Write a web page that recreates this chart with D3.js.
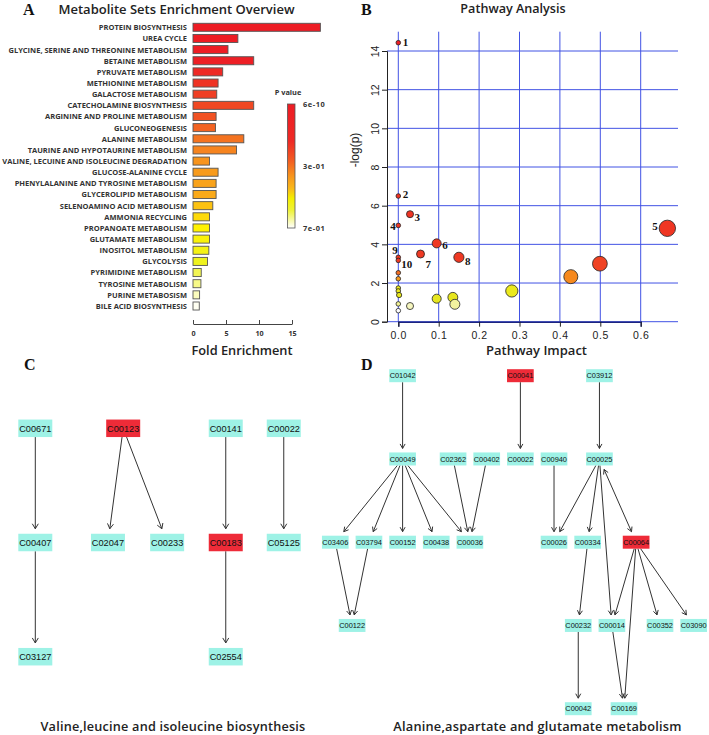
<!DOCTYPE html>
<html><head><meta charset="utf-8">
<script src="https://d3js.org/d3.v7.min.js"></script>
<style>body{margin:0;background:#fff;} svg{display:block;}</style>
</head><body>
<svg id="fig" width="709" height="735"></svg>
<script>
// ---------- Panel A data ----------
const categories = ["PROTEIN BIOSYNTHESIS","UREA CYCLE","GLYCINE, SERINE AND THREONINE METABOLISM","BETAINE METABOLISM","PYRUVATE METABOLISM","METHIONINE METABOLISM","GALACTOSE METABOLISM","CATECHOLAMINE BIOSYNTHESIS","ARGININE AND PROLINE METABOLISM","GLUCONEOGENESIS","ALANINE METABOLISM","TAURINE AND HYPOTAURINE METABOLISM","VALINE, LECUINE AND ISOLEUCINE DEGRADATION","GLUCOSE-ALANINE CYCLE","PHENYLALANINE AND TYROSINE METABOLISM","GLYCEROLIPID METABOLISM","SELENOAMINO ACID METABOLISM","AMMONIA RECYCLING","PROPANOATE METABOLISM","GLUTAMATE METABOLISM","INOSITOL METABOLISM","GLYCOLYSIS","PYRIMIDINE METABOLISM","TYROSINE METABOLISM","PURINE METABOSISM","BILE ACID BIOSYNTHESIS"];
const foldEnrichment = [19.3,6.8,5.3,9.2,4.5,3.8,3.6,9.2,3.5,3.4,7.7,6.6,2.5,3.8,3.5,3.5,3.0,2.5,2.5,2.5,2.4,2.2,1.25,1.2,1.0,0.95];
const pValues = [5.6e-10,1.2e-6,4.0e-5,9.1e-5,2.3e-4,6.0e-4,1.1e-3,2.4e-3,4.9e-3,8.7e-3,1.9e-2,3.3e-2,5.2e-2,7.4e-2,9.5e-2,0.11,0.16,0.21,0.26,0.29,0.33,0.38,0.46,0.52,0.60,0.70];
const foldTicks = [0,5,10,15];
const legendLabels = ["6e-10","3e-01","7e-01"];

// ---------- Panel B data ----------
const pathwayImpact  = [0,0,0.029,0,0.666,0.095,0.055,0.15,0,0,0,0,0,0,0.002,0,0,0.029,0.095,0.135,0.14,0.281,0.427,0.499];
const pathwayNegLogP = [14.43,6.5,5.56,4.98,4.83,4.05,3.5,3.33,3.33,3.17,2.53,2.22,1.74,1.59,1.38,0.92,0.57,0.81,1.19,1.26,0.9,1.59,2.33,3.0];
const pathwayLabels  = ["1","2","3","4","5","6","7","8","9","10","","","","","","","","","","","","","",""];
const impactTicks = [0,0.1,0.2,0.3,0.4,0.5,0.6];
const logPTicks = [0,2,4,6,8,10,12,14];

// ---------- Panel C data ----------
const nodesC = [
  {id:"C00671",col:0,row:0},{id:"C00123",col:1.5,row:0,hit:true},{id:"C00141",col:3.25,row:0},{id:"C00022",col:4.24,row:0},
  {id:"C00407",col:0,row:1},{id:"C02047",col:1.24,row:1},{id:"C00233",col:2.25,row:1},{id:"C00183",col:3.25,row:1,hit:true},{id:"C05125",col:4.24,row:1},
  {id:"C03127",col:0,row:2},{id:"C02554",col:3.25,row:2}
];
const edgesC = [["C00671","C00407"],["C00407","C03127"],["C00123","C02047"],["C00123","C00233"],["C00141","C00183"],["C00183","C02554"],["C00022","C05125"]];

// ---------- Panel D data ----------
const nodesD = [
  {id:"C01042",col:2,row:0},{id:"C00041",col:5.5,row:0,hit:true},{id:"C03912",col:7.85,row:0},
  {id:"C00049",col:2,row:1},{id:"C02362",col:3.5,row:1},{id:"C00402",col:4.5,row:1},{id:"C00022",col:5.5,row:1},{id:"C00940",col:6.5,row:1},{id:"C00025",col:7.85,row:1},
  {id:"C03406",col:0,row:2},{id:"C03794",col:1,row:2},{id:"C00152",col:2,row:2},{id:"C00438",col:3,row:2},{id:"C00036",col:4,row:2},{id:"C00026",col:6.5,row:2},{id:"C00334",col:7.5,row:2},{id:"C00064",col:8.94,row:2,hit:true},
  {id:"C00122",col:0.5,row:3},{id:"C00232",col:7.22,row:3},{id:"C00014",col:8.22,row:3},{id:"C00352",col:9.65,row:3},{id:"C03090",col:10.65,row:3},
  {id:"C00042",col:7.22,row:4},{id:"C00169",col:8.58,row:4}
];
const edgesD = [["C01042","C00049"],["C00041","C00022"],["C03912","C00025"],
  ["C00049","C03406"],["C00049","C03794"],["C00049","C00152"],["C00049","C00438"],["C00049","C00036"],
  ["C02362","C00036"],["C00402","C00036"],["C00940","C00026"],
  ["C00025","C00026"],["C00025","C00334"],["C00025","C00014"],["C00025","C00064","both"],
  ["C03406","C00122"],["C03794","C00122"],["C00334","C00232"],
  ["C00064","C00014"],["C00064","C00169"],["C00064","C00352"],["C00064","C03090"],
  ["C00232","C00042"],["C00014","C00169"]];

// ================= drawing =================
const svg = d3.select("#fig");
const SANS = "'Open Sans', sans-serif";
const ARIAL = "'Liberation Sans', Arial, sans-serif";
const SERIF = "'Liberation Serif', 'Times New Roman', serif";

function panelLetter(t, x, y){
  svg.append("text").attr("x",x).attr("y",y).text(t)
    .attr("font-family",SERIF).attr("font-weight","bold").attr("font-size",16).attr("fill","#111");
}

// ---------- Panel A ----------
(function(){
  const g = svg.append("g");
  panelLetter("A", 23, 15);
  g.append("text").attr("x",176.5).attr("y",14).attr("text-anchor","middle")
    .attr("font-family",SANS).attr("font-weight",600).attr("font-size",13).attr("fill","#222")
    .text("Metabolite Sets Enrichment Overview");

  const x = d3.scaleLinear().domain([0,15]).range([193,292]);
  const y = d3.scalePoint().domain(categories).range([27.3,306]);
  const barH = y.step()*0.72;
  const rank = d3.scaleOrdinal().domain(d3.sort(pValues)).range(d3.range(pValues.length));
  const color = d3.scaleLinear().domain([0,3,8,12,15,18,21,25])
    .range(["#ed1c24","#ed1f25","#f15223","#f7941d","#faaa1a","#fff200","#eef21e","#fffff2"]);

  g.selectAll("rect.bar").data(categories).join("rect").attr("class","bar")
    .attr("x",x(0)).attr("y",d=>y(d)-barH/2)
    .attr("width",(d,i)=>x(foldEnrichment[i])-x(0)).attr("height",barH)
    .attr("fill",(d,i)=>color(rank(pValues[i])))
    .attr("stroke","#555").attr("stroke-width",0.9);

  const ya = g.append("g").attr("transform",`translate(${x(0)},0)`)
    .call(d3.axisLeft(y).tickSize(0).tickPadding(6));
  ya.select(".domain").remove();
  ya.selectAll("text").attr("font-family",SANS).attr("font-weight",700).attr("font-size",7.5).attr("fill","#333");

  const xa = g.append("g").attr("transform","translate(0,324)")
    .call(d3.axisBottom(x).tickValues(foldTicks).tickSizeInner(-4).tickSizeOuter(0).tickPadding(7));
  xa.selectAll("path,line").attr("stroke","#444");
  xa.selectAll("text").attr("font-family",SANS).attr("font-weight",700).attr("font-size",7.2).attr("fill","#333");

  g.append("text").attr("x",242).attr("y",355).attr("text-anchor","middle")
    .attr("font-family",SANS).attr("font-weight",600).attr("font-size",12.8).attr("fill","#222").text("Fold Enrichment");

  // legend
  const defs = svg.append("defs");
  const grad = defs.append("linearGradient").attr("id","pgrad").attr("x1",0).attr("y1",0).attr("x2",0).attr("y2",1);
  [[0,"#ed1c24"],[0.3,"#ee2a25"],[0.45,"#f25a22"],[0.58,"#f7941d"],[0.68,"#f9b81a"],[0.76,"#f4ee00"],[0.86,"#eef23a"],[1,"#ffffff"]]
    .forEach(s=>grad.append("stop").attr("offset",s[0]).attr("stop-color",s[1]));
  const ly = d3.scalePoint().domain(legendLabels).range([104,228]);
  g.append("text").attr("x",288).attr("y",95).attr("text-anchor","middle")
    .attr("font-family",SANS).attr("font-weight",700).attr("font-size",7.4).attr("fill","#333").text("P value");
  g.append("rect").attr("x",287.5).attr("y",104).attr("width",7.5).attr("height",124)
    .attr("fill","url(#pgrad)").attr("stroke","#555").attr("stroke-width",0.8);
  g.selectAll("text.leg").data(legendLabels).join("text").attr("class","leg")
    .attr("x",303).attr("y",d=>ly(d)+2.5).text(d=>d)
    .attr("font-family",SANS).attr("font-weight",700).attr("font-size",7.4).attr("letter-spacing",0.6).attr("fill","#333");
})();

// ---------- Panel B ----------
(function(){
  const g = svg.append("g");
  panelLetter("B", 361, 15);
  g.append("text").attr("x",513).attr("y",13).attr("text-anchor","middle")
    .attr("font-family",SANS).attr("font-weight",600).attr("font-size",12.6).attr("fill","#222").text("Pathway Analysis");

  const x = d3.scaleLinear().domain([0,0.6]).range([398.3,640.7]);
  const y = d3.scaleLinear().domain([0,14]).range([321.7,51]);
  const left = 387, right = 678, top = 31.7;
  const gridC = "#4152e4";
  g.selectAll("line.hg").data(logPTicks).join("line").attr("class","hg")
    .attr("x1",left).attr("x2",right).attr("y1",d=>y(d)).attr("y2",d=>y(d))
    .attr("stroke",gridC).attr("stroke-width",1);
  g.selectAll("line.vg").data(impactTicks).join("line").attr("class","vg")
    .attr("x1",d=>x(d)).attr("x2",d=>x(d)).attr("y1",top).attr("y2",y(0))
    .attr("stroke",gridC).attr("stroke-width",1);

  const xa = g.append("g").attr("transform",`translate(0,${y(0)})`)
    .call(d3.axisBottom(x).tickValues(impactTicks).tickFormat(d3.format(".1f")).tickSizeOuter(0).tickSize(5).tickPadding(5));
  xa.select(".domain").attr("stroke","#1c2580").attr("stroke-width",1.4);
  xa.selectAll("line").attr("stroke","#222");
  xa.selectAll("text").attr("font-family",ARIAL).attr("font-size",10.5).attr("letter-spacing",0.6).attr("fill","#222");

  const ya = g.append("g").attr("transform",`translate(${left},0)`)
    .call(d3.axisLeft(y).tickValues(logPTicks).tickSizeOuter(0).tickSize(5));
  ya.select(".domain").attr("stroke","#222");
  ya.selectAll("line").attr("stroke","#222");
  ya.selectAll("text").attr("x",null).attr("dy",null).attr("text-anchor","middle")
    .attr("transform","translate(-8,0) rotate(-90)")
    .attr("font-family",ARIAL).attr("font-size",10.5).attr("fill","#222");

  g.append("text").attr("transform","translate(359,150) rotate(-90)").attr("text-anchor","middle")
    .attr("font-family",ARIAL).attr("font-size",12).attr("fill","#222").text("-log(p)");
  g.append("text").attr("x",536.5).attr("y",355).attr("text-anchor","middle")
    .attr("font-family",SANS).attr("font-weight",600).attr("font-size",13).attr("fill","#222").text("Pathway Impact");

  const r = d3.scaleSqrt().domain([0,0.67]).range([2.3,8.2]);
  const color = d3.scaleLinear().domain([0.57,0.85,1.2,1.8,2.25,2.6,3.1,15])
    .range(["#ffffff","#f4f4b4","#e6e61e","#eeea1c","#f7941d","#f26522","#ef3a23","#ee1c24"]).clamp(true);
  const idx = d3.range(pathwayImpact.length).sort((a,b)=>pathwayImpact[a]-pathwayImpact[b]);
  g.selectAll("circle.pt").data(idx).join("circle").attr("class","pt")
    .attr("cx",i=>x(pathwayImpact[i])).attr("cy",i=>y(pathwayNegLogP[i]))
    .attr("r",i=>r(pathwayImpact[i]))
    .attr("fill",i=>color(pathwayNegLogP[i])).attr("stroke","#222").attr("stroke-width",0.8);

  const off = {"1":[4.5,3.7,"start"],"2":[4.5,2,"start"],"3":[4.5,6.4,"start"],"4":[-2.5,4.1,"end"],"5":[-9.5,2.1,"end"],
               "6":[5.5,6.1,"start"],"7":[5,14,"start"],"8":[6,7.4,"start"],"9":[-0.5,-2.9,"end"],"10":[3,7.4,"start"]};
  const lab = d3.range(pathwayLabels.length).filter(i=>pathwayLabels[i]);
  g.selectAll("text.pl").data(lab).join("text").attr("class","pl")
    .attr("x",i=>x(pathwayImpact[i])+off[pathwayLabels[i]][0])
    .attr("y",i=>y(pathwayNegLogP[i])+off[pathwayLabels[i]][1])
    .attr("text-anchor",i=>off[pathwayLabels[i]][2])
    .attr("font-family",SERIF).attr("font-weight","bold").attr("font-size",11).attr("fill","#111")
    .text(i=>pathwayLabels[i]);
})();

// ---------- network helper ----------
function drawNet(g, nodes, edges, xs, ys, boxW, boxH, gap, headL, headW, fontSize){
  const byId = new Map(nodes.map(n=>[n.id,n]));
  const el = g.append("g");
  function head(tip, ux, uy){
    const px=-uy, py=ux;
    const bx=tip[0]-ux*headL, by=tip[1]-uy*headL;
    el.append("path").attr("d",`M${bx+px*headW},${by+py*headW}L${tip[0]},${tip[1]}L${bx-px*headW},${by-py*headW}`)
      .attr("fill","none").attr("stroke","#333").attr("stroke-width",1);
  }
  edges.forEach(e=>{
    const s=byId.get(e[0]), t=byId.get(e[1]);
    const sx=xs(s.col), sy=ys(s.row), tx=xs(t.col), ty=ys(t.row);
    const dx=tx-sx, dy=ty-sy, len=Math.hypot(dx,dy), ux=dx/len, uy=dy/len;
    const y0 = sy+boxH/2+(e[2]?gap:0), y1 = ty-boxH/2-gap;
    const p0=[sx+dx*(y0-sy)/dy, y0], p1=[sx+dx*(y1-sy)/dy, y1];
    el.append("line").attr("x1",p0[0]).attr("y1",p0[1]).attr("x2",p1[0]).attr("y2",p1[1])
      .attr("stroke","#333").attr("stroke-width",1);
    head(p1,ux,uy);
    if(e[2]) head(p0,-ux,-uy);
  });
  const ng = g.append("g").selectAll("g").data(nodes).join("g")
    .attr("transform",d=>`translate(${xs(d.col)},${ys(d.row)})`);
  ng.append("rect").attr("x",-boxW/2).attr("y",-boxH/2).attr("width",boxW).attr("height",boxH)
    .attr("fill",d=>d.hit?"#ee2b38":"#9ef2e6");
  ng.append("text").attr("text-anchor","middle").attr("dy","0.36em")
    .attr("font-family",ARIAL).attr("font-size",fontSize).attr("fill","#111").text(d=>d.id);
}

// ---------- Panel C ----------
(function(){
  const g = svg.append("g");
  panelLetter("C", 24, 370);
  const xs = d3.scaleLinear().domain([0,1]).range([35.3,93.9]);
  const ys = d3.scaleLinear().domain([0,2]).range([428.3,656.7]);
  drawNet(g, nodesC, edgesC, xs, ys, 34, 17.5, 5, 5, 3, 9.2);
  g.append("text").attr("x",173).attr("y",731).attr("text-anchor","middle")
    .attr("font-family",SANS).attr("font-weight",600).attr("font-size",12.7).attr("letter-spacing",0.2).attr("fill","#222")
    .text("Valine,leucine and isoleucine biosynthesis");
})();

// ---------- Panel D ----------
(function(){
  const g = svg.append("g");
  panelLetter("D", 361, 370);
  const xs = d3.scaleLinear().domain([0,1]).range([335.3,368.95]);
  const ys = d3.scaleLinear().domain([0,4]).range([375.7,708.7]);
  drawNet(g, nodesD, edgesD, xs, ys, 26.7, 13, 4, 4.5, 2.5, 7.4);
  g.append("text").attr("x",537.5).attr("y",731).attr("text-anchor","middle")
    .attr("font-family",SANS).attr("font-weight",600).attr("font-size",12.8).attr("letter-spacing",0.2).attr("fill","#222")
    .text("Alanine,aspartate and glutamate metabolism");
})();
</script>
</body></html>
